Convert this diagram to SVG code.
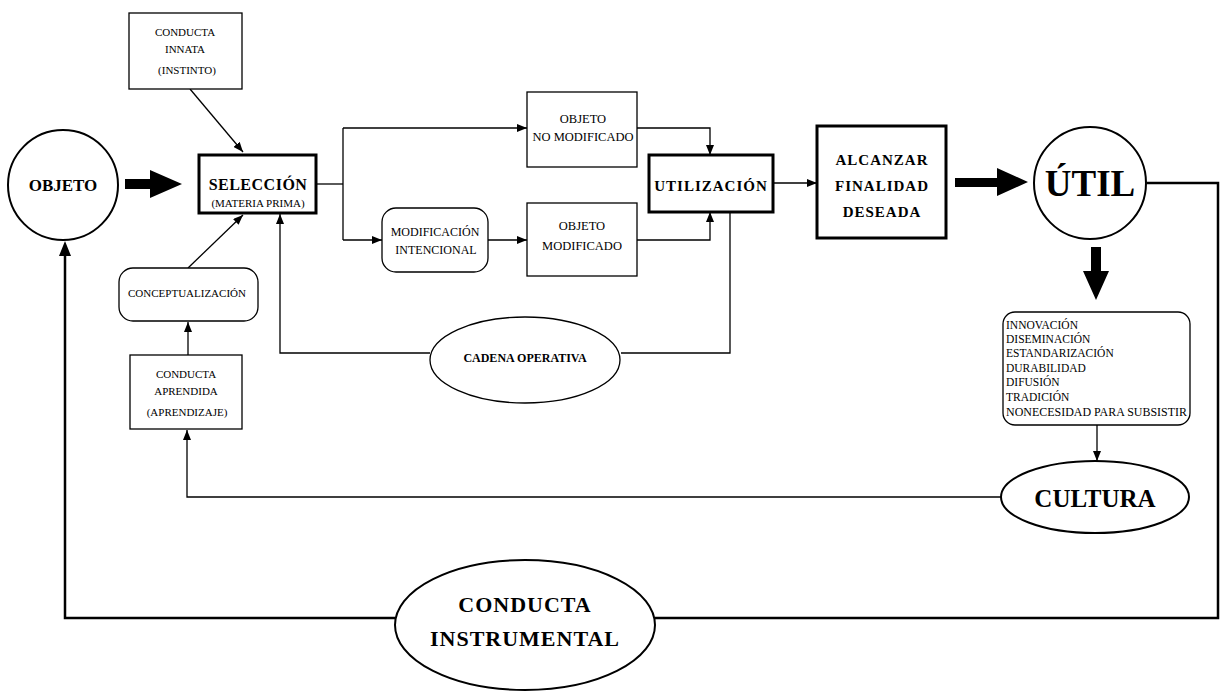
<svg xmlns="http://www.w3.org/2000/svg" width="1220" height="697" viewBox="0 0 1220 697">
<defs>
<marker id="ah" viewBox="0 0 10 8" refX="10" refY="4" markerWidth="10" markerHeight="8" markerUnits="userSpaceOnUse" orient="auto">
<path d="M0,0 L10,4 L0,8 Z" fill="#000"/>
</marker>
</defs>
<style>
text{font-family:"Liberation Serif","Times New Roman",serif;fill:#000;text-anchor:middle}
.b{font-weight:bold}
.s11{font-size:11px}
.s12{font-size:12px}
.box{fill:#fff;stroke:#000;stroke-width:1.3}
.tbox{fill:#fff;stroke:#000;stroke-width:3}
.c{fill:none;stroke:#000;stroke-width:1.3}
.ct{fill:none;stroke:#000;stroke-width:2.5}
.a{marker-end:url(#ah)}
.lst{text-anchor:start;font-size:11.5px}
</style>
<rect width="1220" height="697" fill="#fff"/>
<g id="connectors">
<line class="c a" x1="190" y1="89" x2="243" y2="152"/>
<line class="c a" x1="188" y1="268" x2="243" y2="215"/>
<path class="c" d="M730,212 V353 H621"/>
<path class="c a" d="M430,353 H280 V214"/>
<path class="c" d="M316,184 H343"/>
<path class="c" d="M343,128 V240"/>
<path class="c a" d="M343,128 H527"/>
<path class="c a" d="M343,240 H382"/>
<path class="c a" d="M488,240 H527"/>
<path class="c a" d="M637,128 H710 V155"/>
<path class="c a" d="M637,240 H710 V212"/>
<path class="c a" d="M773,183 H817"/>
<path class="ct" d="M1147,183 H1218 V618 H655"/>
<path class="ct" d="M395,618 H65 V254"/>
<path d="M59,256 L65,241 L71,256 Z" fill="#000"/>
<path class="c a" d="M1097,424 V461"/>
<path class="c a" d="M1001,497 H187 V430"/>
<path class="c a" d="M188,355 V322"/>
<polygon points="125,179 150,179 150,170 182,184 150,198 150,189 125,189" fill="#000"/>
<polygon points="955,178 997,178 997,168 1028,182 997,196 997,187 955,187" fill="#000"/>
<polygon points="1091,247 1101,247 1101,271 1109,271 1096,300 1083,271 1091,271" fill="#000"/>
</g>
<g id="objeto">
<circle cx="63" cy="185" r="55" fill="#fff" stroke="#000" stroke-width="2"/>
<text x="63" y="191" class="b" font-size="17">OBJETO</text>
</g>
<g id="innata">
<rect class="box" x="129" y="13" width="113" height="76"/>
<text x="185" y="36" class="s11">CONDUCTA</text>
<text x="185" y="53" class="s11">INNATA</text>
<text x="187" y="74" class="s11">(INSTINTO)</text>
</g>
<g id="seleccion">
<rect class="tbox" x="199" y="155" width="117" height="58"/>
<text x="258" y="190" class="b" font-size="16" letter-spacing="0.5">SELECCIÓN</text>
<text x="258" y="207" class="s11">(MATERIA PRIMA)</text>
</g>
<g id="conceptualizacion">
<rect class="box" x="119" y="268" width="139" height="53" rx="14"/>
<text x="187" y="297" font-size="11">CONCEPTUALIZACIÓN</text>
</g>
<g id="aprendida">
<rect class="box" x="130" y="355" width="112" height="74"/>
<text x="186" y="378" class="s11">CONDUCTA</text>
<text x="186" y="395" class="s11">APRENDIDA</text>
<text x="187" y="416" class="s11">(APRENDIZAJE)</text>
</g>
<g id="no-modificado">
<rect class="box" x="527" y="92" width="110" height="75"/>
<text x="583" y="123" font-size="12.5">OBJETO</text>
<text x="583" y="141" font-size="12.5">NO MODIFICADO</text>
</g>
<g id="modificacion">
<rect class="box" x="382" y="208" width="106" height="64" rx="14"/>
<text x="435" y="236" class="s12">MODIFICACIÓN</text>
<text x="436" y="254" class="s12">INTENCIONAL</text>
</g>
<g id="modificado">
<rect class="box" x="527" y="203" width="110" height="73"/>
<text x="582" y="230" font-size="12.5">OBJETO</text>
<text x="582" y="250" font-size="12.5">MODIFICADO</text>
</g>
<g id="utilizacion">
<rect class="tbox" x="649" y="155" width="124" height="57"/>
<text x="711" y="191" class="b" font-size="15" letter-spacing="1">UTILIZACIÓN</text>
</g>
<g id="alcanzar">
<rect class="tbox" x="817" y="126" width="129" height="112"/>
<text x="882" y="165" class="b" font-size="15" letter-spacing="1">ALCANZAR</text>
<text x="882" y="191" class="b" font-size="15" letter-spacing="1">FINALIDAD</text>
<text x="882" y="217" class="b" font-size="15" letter-spacing="1">DESEADA</text>
</g>
<g id="util">
<circle cx="1090" cy="183" r="56" fill="#fff" stroke="#000" stroke-width="2"/>
<text x="1090" y="196" class="b" font-size="37">ÚTIL</text>
</g>
<g id="lista">
<rect class="box" x="1003" y="312" width="187" height="113" rx="12"/>
<text x="1006" y="329" class="lst">INNOVACIÓN</text>
<text x="1006" y="343" class="lst">DISEMINACIÓN</text>
<text x="1006" y="357" class="lst">ESTANDARIZACIÓN</text>
<text x="1006" y="372" class="lst">DURABILIDAD</text>
<text x="1006" y="386" class="lst">DIFUSIÓN</text>
<text x="1006" y="401" class="lst">TRADICIÓN</text>
<text x="1006" y="416" class="lst" textLength="181" lengthAdjust="spacingAndGlyphs">NONECESIDAD PARA SUBSISTIR</text>
</g>
<g id="cultura">
<ellipse cx="1095" cy="497" rx="94" ry="36" fill="#fff" stroke="#000" stroke-width="2"/>
<text x="1095" y="507" class="b" font-size="25">CULTURA</text>
</g>
<g id="cadena">
<ellipse cx="525" cy="360" rx="95" ry="43" fill="#fff" stroke="#000" stroke-width="1.3"/>
<text x="525" y="362" class="b s12">CADENA OPERATIVA</text>
</g>
<g id="instrumental">
<ellipse cx="525" cy="625" rx="130" ry="65" fill="#fff" stroke="#000" stroke-width="2"/>
<text x="525" y="612" class="b" font-size="22" letter-spacing="1">CONDUCTA</text>
<text x="525" y="646" class="b" font-size="22" letter-spacing="1">INSTRUMENTAL</text>
</g>
</svg>
